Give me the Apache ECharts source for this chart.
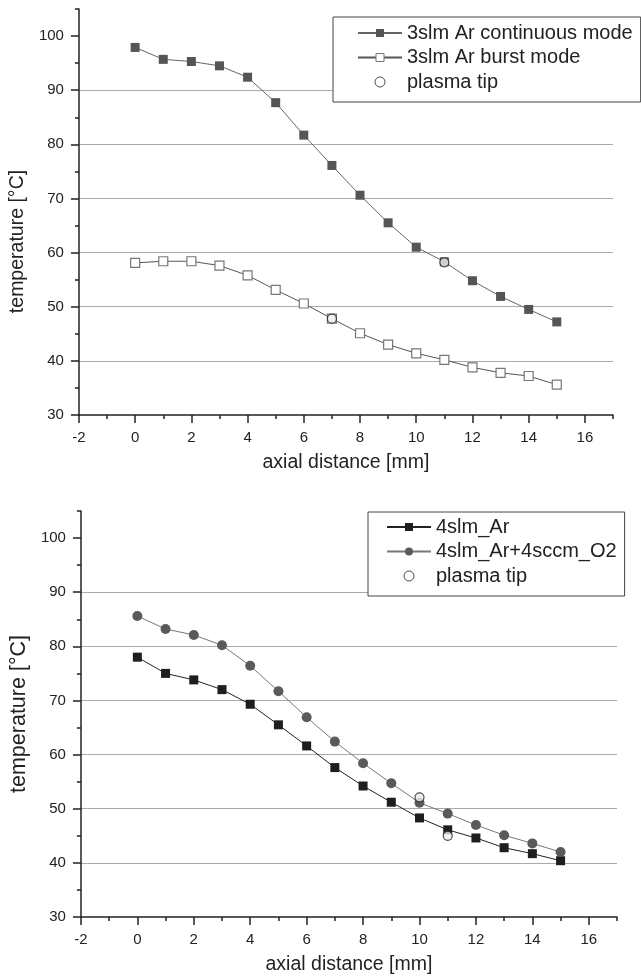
<!DOCTYPE html>
<html><head><meta charset="utf-8">
<script src="https://cdn.jsdelivr.net/npm/echarts@6/dist/echarts.min.js"></script>
<style>html,body{margin:0;padding:0;background:#fff}#c{width:641px;height:977px}</style>
</head><body><div id="c"></div>
<script>
// ---- data ----
const xValues = [0,1,2,3,4,5,6,7,8,9,10,11,12,13,14,15];
const contMode = [97.9,95.7,95.3,94.5,92.4,87.7,81.7,76.1,70.6,65.5,61.0,58.3,54.8,51.9,49.5,47.2];
const burstMode = [58.1,58.4,58.4,57.6,55.8,53.1,50.6,47.8,45.1,43.0,41.4,40.2,38.8,37.8,37.2,35.6];
const tipTopX = [7, 11];
const tipTopY = [47.8, 58.2];
const ar4 = [78.0,75.0,73.8,72.0,69.3,65.5,61.6,57.6,54.2,51.2,48.3,46.1,44.6,42.8,41.7,40.4];
const arO2 = [85.6,83.2,82.1,80.2,76.4,71.7,66.9,62.4,58.4,54.7,51.1,49.1,47.0,45.1,43.6,42.0];
const tipBotX = [10, 11];
const tipBotY = [52.1, 45.0];
const xMajorTicks = [-2,0,2,4,6,8,10,12,14,16];
const xMinorTicks = [-1,1,3,5,7,9,11,13,15,17];
const yMajorTicks = [30,40,50,60,70,80,90,100];
const yMinorTicks = [35,45,55,65,75,85,95,105];
const topNames = ['3slm Ar continuous mode','3slm Ar burst mode','plasma tip'];
const botNames = ['4slm_Ar','4slm_Ar+4sccm_O2','plasma tip'];

const FONT = '"Liberation Sans", Arial, Helvetica, sans-serif';
const AX = '#222';
const zip = (xs, ys) => xs.map((x, i) => [x, ys[i]]);

function xMain(g) {
  return {type:'value', gridIndex:g, min:-2, max:17, interval:2, position:'bottom',
    axisLine:{show:true, onZero:false, lineStyle:{color:AX, width:1.5}},
    axisTick:{show:true, customValues:xMajorTicks, length:8, lineStyle:{color:AX, width:1.5}},
    axisLabel:{customValues:xMajorTicks, margin:15, fontSize:15, color:AX, fontFamily:FONT},
    splitLine:{show:false},
    name:'axial distance [mm]', nameLocation:'middle', nameGap:38,
    nameTextStyle:{fontSize:19.5, color:AX, fontFamily:FONT}};
}
function xMinor(g) {
  return {type:'value', gridIndex:g, min:-2, max:17, position:'bottom',
    axisLine:{show:false, onZero:false},
    axisTick:{show:true, customValues:xMinorTicks, length:4, lineStyle:{color:AX, width:1.5}},
    axisLabel:{show:false}, splitLine:{show:false}};
}
function yMain(g, fs, gap, pad) {
  return {type:'value', gridIndex:g, min:30, max:105, interval:10, position:'left',
    axisLine:{show:true, onZero:false, lineStyle:{color:AX, width:1.5}},
    axisTick:{show:true, customValues:yMajorTicks, length:8, lineStyle:{color:AX, width:1.5}},
    axisLabel:{customValues:yMajorTicks, margin:15, fontSize:15, color:AX, fontFamily:FONT},
    splitLine:{show:true, showMinLine:false, showMaxLine:false, lineStyle:{color:'#aaa', width:1}},
    name:'temperature [°C]', nameLocation:'middle', nameGap:gap,
    nameTextStyle:{fontSize:fs, color:AX, fontFamily:FONT, padding:pad}};
}
function yMinor(g) {
  return {type:'value', gridIndex:g, min:30, max:105, position:'left',
    axisLine:{show:false, onZero:false},
    axisTick:{show:true, customValues:yMinorTicks, length:4, lineStyle:{color:AX, width:1.5}},
    axisLabel:{show:false}, splitLine:{show:false}};
}
function legend(names, left, top, pad) {
  return {orient:'vertical', left:left, top:top, padding:pad,
    data:[{name:names[0]},{name:names[1]},
      {name:names[2], icon:'circle', itemStyle:{color:'#fff', borderColor:'#222', borderWidth:1}}],
    itemWidth:44, itemHeight:10, itemGap:4.5,
    backgroundColor:'#fff', borderColor:'#444', borderWidth:1, borderRadius:0,
    itemStyle:{borderWidth:1},
    textStyle:{fontSize:20, color:AX, fontFamily:FONT}, selectedMode:false};
}

const chart = echarts.init(document.getElementById('c'), null, {renderer:'canvas'});
chart.setOption({
  animation:false,
  backgroundColor:'#fff',
  textStyle:{fontFamily:FONT},
  grid:[
    {left:78, top:9, width:535, height:406},
    {left:80, top:511, width:537, height:406}
  ],
  xAxis:[xMain(0), xMinor(0), xMain(1), xMinor(1)],
  yAxis:[yMain(0, 19.5, 49, [0,59,0,0]), yMinor(0), yMain(1, 21.5, 46, [0,0,0,0]), yMinor(1)],
  legend:[legend(topNames, 333, 17, [6,8,10,24]), legend(botNames, 368, 512, [5,8,10,18])],
  series:[
    {name:topNames[0], type:'line', xAxisIndex:0, yAxisIndex:0, data:zip(xValues, contMode),
      symbol:'rect', symbolSize:9, itemStyle:{color:'#555'}, lineStyle:{color:'#666', width:1}},
    {name:topNames[1], type:'line', xAxisIndex:0, yAxisIndex:0, data:zip(xValues, burstMode),
      symbol:'rect', symbolSize:9, itemStyle:{color:'#fff', borderColor:'#777', borderWidth:1.2}, lineStyle:{color:'#555', width:1}},
    {name:'plasma tip', type:'scatter', xAxisIndex:0, yAxisIndex:0, data:zip(tipTopX, tipTopY), z:5,
      symbol:'circle', symbolSize:9, itemStyle:{color:'#eee', borderColor:'#222', borderWidth:1.2}},
    {name:botNames[0], type:'line', xAxisIndex:2, yAxisIndex:2, data:zip(xValues, ar4),
      symbol:'rect', symbolSize:9, itemStyle:{color:'#1e1e1e'}, lineStyle:{color:'#222', width:1}},
    {name:botNames[1], type:'line', xAxisIndex:2, yAxisIndex:2, data:zip(xValues, arO2),
      symbol:'circle', symbolSize:10, itemStyle:{color:'#5a5a5a'}, lineStyle:{color:'#777', width:1}},
    {name:'plasma tip', type:'scatter', xAxisIndex:2, yAxisIndex:2, data:zip(tipBotX, tipBotY), z:5,
      symbol:'circle', symbolSize:9, itemStyle:{color:'#eee', borderColor:'#222', borderWidth:1.2}}
  ]
});
</script></body></html>
